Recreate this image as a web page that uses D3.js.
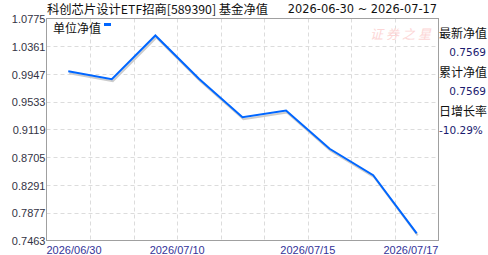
<!DOCTYPE html>
<html>
<head>
<meta charset="utf-8">
<script src="https://cdn.jsdelivr.net/npm/d3@7"></script>
<style>
  body { margin: 0; background: #fff; }
  svg { display: block; }
</style>
</head>
<body>
<script>
// data
var dates = ["2026-06-30", "2026-07-02", "2026-07-06", "2026-07-08", "2026-07-09",
             "2026-07-13", "2026-07-14", "2026-07-16", "2026-07-17"];
var nav = [0.9989, 0.9869, 1.0521, 0.9875, 0.9303, 0.9402, 0.8831, 0.8437, 0.7569];
var yTicks = [0.7463, 0.7877, 0.8291, 0.8705, 0.9119, 0.9533, 0.9947, 1.0361, 1.0775];
var xLabels = ["2026/06/30", "2026/07/10", "2026/07/15", "2026/07/17"];
var xLabelPos = [0, 3, 6, 9];
var infoNames = ["最新净值", "累计净值", "日增长率"];
var infoValues = ["0.7569", "0.7569", "-10.29%"];

var w = 488, h = 255;
// plot frame (don't call these top/left - window.top is read only)
var plotL = 46.5, plotR = 438.5, plotT = 18.5, plotB = 240.5;
var font = "'Liberation Sans', Arial, sans-serif";
var cjk = "'Noto Sans CJK SC', sans-serif";

var svg = d3.select("body").append("svg")
  .attr("width", w)
  .attr("height", h);

var xScale = d3.scaleLinear().domain([0, dates.length]).range([plotL, plotR]);
var yScale = d3.scaleLinear().domain([yTicks[0], yTicks[yTicks.length - 1]]).range([plotB, plotT]);

// grid
svg.append("g").selectAll("line")
  .data(yTicks.slice(1, -1))
  .enter().append("line")
  .attr("x1", plotL).attr("x2", plotR)
  .attr("y1", d => Math.round(yScale(d)) + 0.5)
  .attr("y2", d => Math.round(yScale(d)) + 0.5)
  .attr("stroke", "#dcdcdc")
  .attr("stroke-dasharray", "4,3");

svg.append("g").selectAll("line")
  .data(d3.range(1, dates.length))
  .enter().append("line")
  .attr("x1", d => Math.round(xScale(d)) + 0.5)
  .attr("x2", d => Math.round(xScale(d)) + 0.5)
  .attr("y1", plotT).attr("y2", plotB)
  .attr("stroke", "#dcdcdc")
  .attr("stroke-dasharray", "4,3");

// watermark
svg.append("text")
  .attr("x", 370).attr("y", 39)
  .attr("font-family", cjk)
  .attr("font-size", 13)
  .attr("font-style", "italic")
  .attr("letter-spacing", 3)
  .attr("fill", "#fcd6d6")
  .text("证券之星");

// frame
svg.append("rect")
  .attr("x", plotL).attr("y", plotT)
  .attr("width", plotR - plotL).attr("height", plotB - plotT)
  .attr("fill", "none")
  .attr("stroke", "#a0a0a0");

// line + shadow
var line = d3.line()
  .x((d, i) => xScale(i + 0.5))
  .y(d => yScale(d));

svg.append("path")
  .datum(nav)
  .attr("d", line)
  .attr("transform", "translate(1,2)")
  .attr("fill", "none")
  .attr("stroke", "#cccccc")
  .attr("stroke-width", 2);

svg.append("path")
  .datum(nav)
  .attr("d", line)
  .attr("fill", "none")
  .attr("stroke", "#0066ff")
  .attr("stroke-width", 2);

// y tick labels
svg.append("g").selectAll("text")
  .data(yTicks)
  .enter().append("text")
  .attr("x", plotL - 1)
  .attr("y", d => yScale(d) + 4.5)
  .attr("text-anchor", "end")
  .attr("font-family", font)
  .attr("font-size", 11)
  .attr("fill", "#333344")
  .text(d => d.toFixed(4));

// x tick labels
svg.append("g").selectAll("text")
  .data(xLabels)
  .enter().append("text")
  .attr("x", (d, i) => xScale(xLabelPos[i]))
  .attr("y", 254)
  .attr("text-anchor", (d, i) => i == 0 ? "start" : (i == xLabels.length - 1 ? "end" : "middle"))
  .attr("font-family", font)
  .attr("font-size", 11)
  .attr("fill", "#333399")
  .text(d => d);

// title
svg.append("text")
  .attr("x", 47).attr("y", 14)
  .attr("font-family", cjk)
  .attr("font-size", 12.3)
  .attr("fill", "#111")
  .text("科创芯片设计ETF招商[589390] 基金净值");

svg.append("text")
  .attr("x", 437).attr("y", 13)
  .attr("text-anchor", "end")
  .attr("font-family", "'DejaVu Sans', sans-serif")
  .attr("font-size", 11.4)
  .attr("fill", "#111")
  .text(dates[0] + " ~ " + dates[dates.length - 1]);

// legend
svg.append("text")
  .attr("x", 53).attr("y", 33)
  .attr("font-family", cjk)
  .attr("font-size", 12)
  .attr("fill", "#111")
  .text("单位净值");

svg.append("rect")
  .attr("x", 104).attr("y", 23)
  .attr("width", 7).attr("height", 3)
  .attr("fill", "#0066ff");

// right info panel
var info = svg.append("g");
infoNames.forEach(function(name, i) {
  info.append("text")
    .attr("x", 439).attr("y", 38 + i * 39)
    .attr("font-family", cjk)
    .attr("font-size", 12)
    .attr("fill", "#111")
    .text(name);
  info.append("text")
    .attr("x", i == 2 ? 439 : 486).attr("y", 56 + i * 39)
    .attr("text-anchor", i == 2 ? "start" : "end")
    .attr("font-family", "'DejaVu Sans', sans-serif")
    .attr("font-size", 10.5)
    .attr("fill", "#1a1a6e")
    .text(infoValues[i]);
});
</script>
</body>
</html>
